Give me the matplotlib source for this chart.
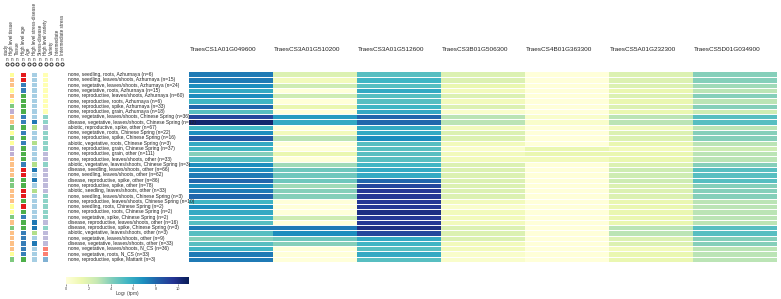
import numpy as np
import matplotlib
matplotlib.use("Agg")
import matplotlib.pyplot as plt
from matplotlib.colors import Normalize

plt.rcParams['font.family'] = ['Liberation Sans', 'DejaVu Sans']

W, H = 781, 299

genes = ["TraesCS1A01G049600", "TraesCS3A01G510200", "TraesCS3A01G512600",
         "TraesCS3B01G506300", "TraesCS4B01G363300", "TraesCS5A01G232300",
         "TraesCS5D01G034900"]

rows = [
    "none, seedling, roots, Azhurnaya (n=6)",
    "none, seedling, leaves/shoots, Azhurnaya (n=15)",
    "none, vegetative, leaves/shoots, Azhurnaya (n=24)",
    "none, vegetative, roots, Azhurnaya (n=15)",
    "none, reproductive, leaves/shoots, Azhurnaya (n=60)",
    "none, reproductive, roots, Azhurnaya (n=6)",
    "none, reproductive, spike, Azhurnaya (n=33)",
    "none, reproductive, grain, Azhurnaya (n=18)",
    "none, vegetative, leaves/shoots, Chinese Spring (n=36)",
    "disease, vegetative, leaves/shoots, Chinese Spring (n=12)",
    "abiotic, reproductive, spike, other (n=67)",
    "none, vegetative, roots, Chinese Spring (n=22)",
    "none, reproductive, spike, Chinese Spring (n=16)",
    "abiotic, vegetative, roots, Chinese Spring (n=3)",
    "none, reproductive, grain, Chinese Spring (n=37)",
    "none, reproductive, grain, other (n=111)",
    "none, reproductive, leaves/shoots, other (n=33)",
    "abiotic, vegetative, leaves/shoots, Chinese Spring (n=3)",
    "disease, seedling, leaves/shoots, other (n=66)",
    "none, seedling, leaves/shoots, other (n=62)",
    "disease, reproductive, spike, other (n=86)",
    "none, reproductive, spike, other (n=78)",
    "abiotic, seedling, leaves/shoots, other (n=33)",
    "none, seedling, leaves/shoots, Chinese Spring (n=3)",
    "none, reproductive, leaves/shoots, Chinese Spring (n=10)",
    "none, seedling, roots, Chinese Spring (n=2)",
    "none, reproductive, roots, Chinese Spring (n=2)",
    "none, vegetative, spike, Chinese Spring (n=2)",
    "disease, reproductive, leaves/shoots, other (n=16)",
    "disease, reproductive, spike, Chinese Spring (n=3)",
    "abiotic, vegetative, leaves/shoots, other (n=3)",
    "none, vegetative, leaves/shoots, other (n=9)",
    "disease, vegetative, leaves/shoots, other (n=33)",
    "none, vegetative, leaves/shoots, N_CS (n=36)",
    "none, vegetative, roots, N_CS (n=33)",
    "none, reproductive, spike, Mattarit (n=3)",
]

# log2 expression per gene, one value per row
g1 = [7.5, 7.5, 7, 6, 7, 5.5, 8, 5, 9, 10.5, 5.5, 7, 8.5, 6, 5.5, 4,
      5, 7, 7, 7.5, 8, 7, 7.5, 8, 5.5, 7, 6, 5.5, 5, 7.5, 5, 4, 5, 5.5, 7.5, 7.5]
g2 = [2, 1, 2.5, 0, 2.5, 0, 1.5, 0, 6.5, 6, 0, 1, 3, 0, 0, 1.5,
      0, 3.5, 4.5, 4.5, 4.5, 3.5, 4, 4, 0, 0, 0, 2.5, 0, 7.5, 7, 4.5, 4, 0, 0, 0]
g3 = [5, 5.5, 5, 6, 5, 5, 5.5, 6, 8, 8, 6, 6, 7, 5, 5, 5,
      5, 5.5, 6, 6, 8, 9, 9.5, 9.5, 9.5, 9.5, 10, 9.5, 9.5, 10, 9, 6, 5.5, 5, 6, 5]
g4 = [2, 2, 1.5, 1, 2, 1, 2, 0.5, 3, 3, 1, 2, 2, 1, 0.5, 1,
      1, 2, 2, 2, 2, 2, 2, 2, 1, 0.5, 1, 1, 1, 2, 2, 2, 1, 1, 0.5, 0.5]
g5 = [0, 0, 0, 0, 0, 0, 0, 0, 0.5, 0.5, 0, 0, 0, 0, 1.5, 1.5,
      1, 0, 0, 0, 0, 0, 0, 0, 0, 0, 0, 0, 0, 0, 0, 0, 0, 0, 0, 0]
g6 = [2, 2, 2, 1.5, 2, 1.5, 2, 1.5, 3, 3, 1, 2, 2, 1.5, 1, 1.5,
      1.5, 2, 2.5, 2.5, 2.5, 2, 2, 2, 1.5, 1.5, 1.5, 1.5, 1.5, 3, 3, 2, 2, 1, 1.5, 1.5]
g7 = [4, 4, 3.5, 3, 4, 3, 4, 2.5, 5, 5, 3, 4, 4, 3, 2.5, 3,
      3, 4, 5, 5, 5, 4, 4, 4, 3, 3, 3, 3, 3, 5, 5, 4, 4, 3, 3, 3]

annot_names = ["study", "High level tissue", "Tissue", "High level age", "Age",
               "High level stress-disease", "Stress-disease", "High level variety",
               "Variety", "Intermediate", "Intermediate stress"]

tissue_col = {"roots": "#ffff99", "leaves/shoots": "#fdc086", "spike": "#7fc97f", "grain": "#beaed4"}
age_col = {"seedling": "#e41a1c", "vegetative": "#377eb8", "reproductive": "#4daf4a"}
stress_col = {"none": "#a6cee3", "disease": "#1f78b4", "abiotic": "#b2df8a"}
variety_col = {"Azhurnaya": "#ffffb3", "Chinese Spring": "#8dd3c7", "other": "#bebada",
               "N_CS": "#fb8072", "Mattarit": "#80b1d3"}

vmax = 11.0
cmap = plt.get_cmap("YlGnBu")
norm = Normalize(0, vmax)

fig = plt.figure(figsize=(W / 100, H / 100), dpi=100)


def px_axes(x0, y0, x1, y1):
    return fig.add_axes([x0 / W, 1 - y1 / H, (x1 - x0) / W, (y1 - y0) / H])


n = len(rows)
top, bottom = 72, 262
data = np.array([g1, g2, g3, g4, g5, g6, g7]).T

# heatmap
ax = px_axes(189, top, 777, bottom)
ax.pcolormesh(np.arange(len(genes) + 1), np.arange(n + 1), data, cmap=cmap, norm=norm)
for i in range(1, n):
    ax.axhline(i, color="white", lw=0.7)
ax.set_xlim(0, len(genes))
ax.set_ylim(n, 0)
ax.axis("off")
for j, g in enumerate(genes):
    ax.text(j + 0.01, -4.2, g, fontsize=4.6, ha="left", va="center", color="#222222")

# annotation columns + row labels
aax = px_axes(0, 0, 189, bottom)
aax.set_xlim(0, 189)
aax.set_ylim(bottom, 0)
aax.axis("off")
rh = (bottom - top) / n
xs = [6.7, 12, 17.3, 23.2, 28.7, 34.3, 40, 45.7, 51, 56.7, 62]
for x, name in zip(xs, annot_names):
    aax.text(x, 55, name, rotation=90, fontsize=3.3, ha="center", va="bottom", color="#333333")
    aax.text(x, 59.5, "n", fontsize=3.3, ha="center", va="center", color="#333333")
    aax.plot(x, 64, marker="o", ms=2.2, mfc="none", mec="#333333", mew=0.7)

for i, lab in enumerate(rows):
    stress, age, tissue, rest = lab.split(", ", 3)
    variety = rest.split(" (")[0]
    y0 = top + i * rh
    for x, c in zip([xs[1], xs[3], xs[5], xs[7]],
                    [tissue_col[tissue], age_col[age], stress_col[stress], variety_col[variety]]):
        aax.add_patch(plt.Rectangle((x - 2.4, y0 + 0.5), 4.8, rh - 1.0, color=c, lw=0))
    aax.text(68, y0 + rh / 2, lab, fontsize=3.5, ha="left", va="center", color="#222222")

# colorbar
cax = px_axes(66, 277, 189, 284)
grad = np.linspace(0, vmax, 256)[None, :]
cax.imshow(grad, aspect="auto", cmap=cmap, norm=norm, extent=[0, vmax, 0, 1])
cax.set_yticks([])
cax.set_xticks([0, 2, 4, 6, 8, 10])
cax.tick_params(axis="x", labelsize=2.8, length=1.5, width=0.4, pad=0.5, colors="#444444")
for s in cax.spines.values():
    s.set_visible(False)
fig.text(127.5 / W, 1 - 294 / H, "Log$_2$ (tpm)", fontsize=3.4, ha="center", va="center",
         color="#333333")

fig.savefig("out.png", dpi=100, facecolor="white")
